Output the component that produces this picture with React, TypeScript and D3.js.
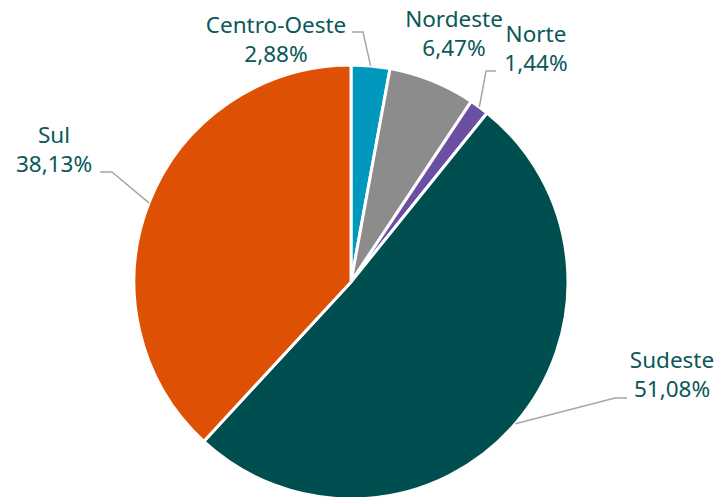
import * as d3 from "d3";
import { useEffect, useRef } from "react";

const regions = ["Centro-Oeste", "Nordeste", "Norte", "Sudeste", "Sul"];
const shares = [2.88, 6.47, 1.44, 51.08, 38.13];
const colors = ["#0099bd", "#8c8c8c", "#6a4fa3", "#004f50", "#de5004"];

// label placement: text anchor point, plus leader elbow (null = no leader)
const labelLayout: Record<string, { x: number; y: number; anchor: string; elbow: [number, number] | null; tail: number }> = {
  "Centro-Oeste": { x: 276, y: 33, anchor: "middle", elbow: [363, 32], tail: 352 },
  Nordeste: { x: 454, y: 27, anchor: "middle", elbow: null, tail: 0 },
  Norte: { x: 536, y: 42, anchor: "middle", elbow: [486, 71], tail: 496 },
  Sudeste: { x: 672, y: 368, anchor: "middle", elbow: [615, 398], tail: 627 },
  Sul: { x: 54, y: 143, anchor: "middle", elbow: [112, 172], tail: 100 },
};

const WIDTH = 720;
const HEIGHT = 497;
const CX = 351;
const CY = 282;
const RADIUS = 217;
const FONT = "'Noto Sans', Tahoma, sans-serif";

interface Datum {
  region: string;
  share: number;
  color: string;
}

export default function App() {
  const svgRef = useRef<SVGSVGElement | null>(null);

  useEffect(() => {
    if (!svgRef.current) return;
    const data: Datum[] = regions.map((r, i) => ({ region: r, share: shares[i], color: colors[i] }));

    const svg = d3.select(svgRef.current);
    svg.selectAll("*").remove();

    const pie = d3
      .pie<Datum>()
      .sort(null)
      .value((d) => d.share);
    const arcs = pie(data);

    const arc = d3.arc<d3.PieArcDatum<Datum>>().innerRadius(0).outerRadius(RADIUS);

    const g = svg.append("g").attr("transform", `translate(${CX},${CY})`);

    g.selectAll("path.slice")
      .data(arcs)
      .join("path")
      .attr("class", "slice")
      .attr("d", arc)
      .attr("fill", (d) => d.data.color)
      .attr("stroke", "#ffffff")
      .attr("stroke-width", 3)
      .attr("stroke-linejoin", "round");

    // leader lines
    arcs.forEach((a) => {
      const lay = labelLayout[a.data.region];
      if (!lay.elbow) return;
      const mid = (a.startAngle + a.endAngle) / 2;
      const sx = CX + RADIUS * Math.sin(mid);
      const sy = CY - RADIUS * Math.cos(mid);
      const line = d3.line();
      svg
        .append("path")
        .attr("d", line([[sx, sy], lay.elbow, [lay.tail, lay.elbow[1]]]))
        .attr("fill", "none")
        .attr("stroke", "#a6a6a6")
        .attr("stroke-width", 1.5);
    });

    const fmt = (v: number) => v.toFixed(2).replace(".", ",") + "%";

    arcs.forEach((a) => {
      const lay = labelLayout[a.data.region];
      const t = svg
        .append("text")
        .attr("x", lay.x)
        .attr("y", lay.y)
        .attr("text-anchor", lay.anchor)
        .attr("fill", "#0b5858")
        .attr("font-family", FONT)
        .attr("font-size", 22.5);
      t.append("tspan").attr("x", lay.x).text(a.data.region);
      t.append("tspan").attr("x", lay.x).attr("dy", 29).text(fmt(a.data.share));
    });
  }, []);

  return (
    <svg
      ref={svgRef}
      width={WIDTH}
      height={HEIGHT}
      style={{ position: "absolute", left: 0, top: 0, display: "block", background: "#fff" }}
    />
  );
}
